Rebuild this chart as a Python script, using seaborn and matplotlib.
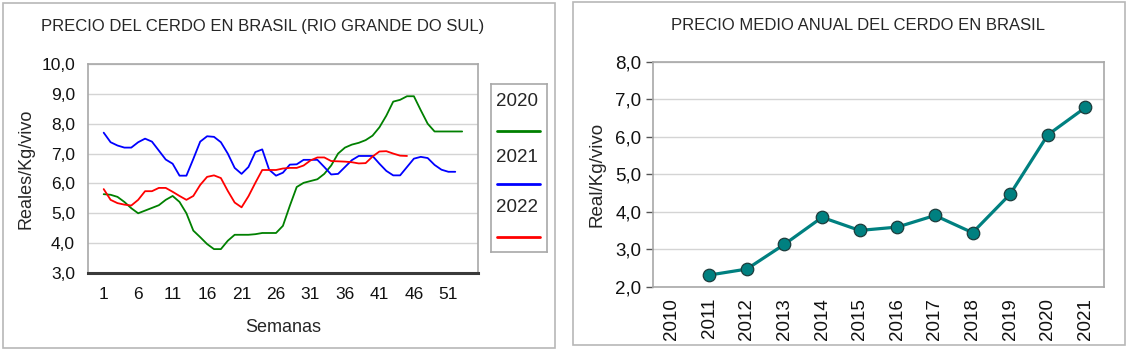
import matplotlib
matplotlib.use("Agg")
import matplotlib.pyplot as plt
from matplotlib.patches import Rectangle
from matplotlib.ticker import FuncFormatter
import pandas as pd
import seaborn as sns

# weekly live pig price, Rio Grande do Sul (Reales/Kg vivo)
precio_2020 = [
    5.64, 5.62, 5.55, 5.38, 5.17, 5.00, 5.09, 5.18, 5.27, 5.45,
    5.58, 5.38, 5.00, 4.42, 4.20, 3.97, 3.80, 3.80, 4.08, 4.28,
    4.28, 4.28, 4.30, 4.34, 4.34, 4.34, 4.58, 5.25, 5.88, 6.02,
    6.08, 6.14, 6.32, 6.60, 7.00, 7.20, 7.30, 7.36, 7.45, 7.60,
    7.88, 8.27, 8.74, 8.80, 8.92, 8.92, 8.45, 8.00, 7.74, 7.74,
    7.74, 7.74, 7.74,
]
precio_2021 = [
    7.70, 7.38, 7.27, 7.20, 7.20, 7.38, 7.50, 7.40, 7.10, 6.80,
    6.66, 6.26, 6.26, 6.82, 7.40, 7.58, 7.56, 7.38, 7.00, 6.52,
    6.32, 6.55, 7.05, 7.14, 6.46, 6.26, 6.36, 6.63, 6.64, 6.79,
    6.79, 6.79, 6.55, 6.30, 6.32, 6.55, 6.78, 6.92, 6.92, 6.92,
    6.66, 6.42, 6.27, 6.27, 6.55, 6.83, 6.89, 6.85, 6.62, 6.46,
    6.39, 6.39,
]
precio_2022 = [
    5.81, 5.45, 5.34, 5.29, 5.26, 5.45, 5.74, 5.74, 5.85, 5.85,
    5.72, 5.58, 5.45, 5.58, 5.95, 6.22, 6.27, 6.18, 5.75, 5.36,
    5.20, 5.57, 6.02, 6.45, 6.45, 6.45, 6.50, 6.52, 6.52, 6.60,
    6.77, 6.87, 6.87, 6.75, 6.74, 6.73, 6.71, 6.67, 6.68, 6.90,
    7.07, 7.08, 7.00, 6.93, 6.92,
]
series_anios = ["2020", "2021", "2022"]
series_colores = ["#008000", "#0000ff", "#ff0000"]
semana_ticks = [1, 6, 11, 16, 21, 26, 31, 36, 41, 46, 51]

# annual average price
anios_eje = list(range(2010, 2022))
anios = [2011, 2012, 2013, 2014, 2015, 2016, 2017, 2018, 2019, 2020, 2021]
precio_medio = [2.31, 2.47, 3.13, 3.85, 3.50, 3.59, 3.90, 3.44, 4.47, 6.05, 6.78]

frames = []
for anio, valores in zip(series_anios, [precio_2020, precio_2021, precio_2022]):
    frames.append(pd.DataFrame({
        "Semana": range(1, len(valores) + 1),
        "Precio": valores,
        "Año": anio,
    }))
semanal = pd.concat(frames, ignore_index=True)
anual = pd.DataFrame({"Año": anios, "Precio": precio_medio})

sns.set_style("white")
plt.rcParams["font.family"] = ["Liberation Sans", "DejaVu Sans"]

W, H = 1132, 352
fig = plt.figure(figsize=(W / 100, H / 100), dpi=100)


def fx(px):
    return px / W


def fy(py):
    return 1 - py / H


coma = FuncFormatter(lambda v, p: f"{v:.1f}".replace(".", ","))
gris = "#a8a8a8"

# panel frames
fig.add_artist(Rectangle((fx(3), fy(348)), fx(552), 345 / H, transform=fig.transFigure,
                         fill=False, edgecolor="#b8b8b8", linewidth=1.2))
fig.add_artist(Rectangle((fx(573), fy(345)), fx(552), 343 / H, transform=fig.transFigure,
                         fill=False, edgecolor="#b8b8b8", linewidth=1.2))

# ---- left: weekly prices
ax1 = fig.add_axes([fx(87.5), fy(273), fx(478 - 87.5), (273 - 64) / H])
sns.lineplot(data=semanal, x="Semana", y="Precio", hue="Año",
             palette=dict(zip(series_anios, series_colores)),
             linewidth=1.3, legend=False, ax=ax1)
ax1.set_xlim(-1.35, 55.3)
ax1.set_ylim(3, 10)
ax1.set_yticks(range(3, 11))
ax1.yaxis.set_major_formatter(coma)
ax1.set_xticks(semana_ticks)
ax1.yaxis.grid(True, color="#d4d4d4", linewidth=1)
ax1.tick_params(axis="both", length=0, labelsize=12.5, colors="#111111")
ax1.tick_params(axis="y", pad=9)
ax1.tick_params(axis="x", pad=10)
for s in ["top", "right", "left"]:
    ax1.spines[s].set_color(gris)
    ax1.spines[s].set_linewidth(1.2)
ax1.spines["bottom"].set_color("#3a3a3a")
ax1.spines["bottom"].set_linewidth(2.2)
ax1.set_xlabel("Semanas", fontsize=13, labelpad=12)
ax1.set_ylabel("Reales/Kg/vivo", fontsize=13, labelpad=5)

fig.text(fx(263), fy(26), "PRECIO DEL CERDO EN BRASIL (RIO GRANDE DO SUL)",
         ha="center", va="center", fontsize=12)

# legend box
axl = fig.add_axes([fx(490.5), fy(252), fx(56), (252 - 84) / H])
axl.set_xlim(0, 1)
axl.set_ylim(252, 84)
axl.set_xticks([])
axl.set_yticks([])
for s in axl.spines.values():
    s.set_color(gris)
    s.set_linewidth(1.2)
for anio, col, yt, yl in zip(series_anios, series_colores, [102, 157, 208], [131, 184, 237]):
    axl.text(0.47, yt, anio, ha="center", va="center", fontsize=13.5)
    axl.plot([0.11, 0.89], [yl, yl], color=col, linewidth=2)

# ---- right: annual average
ax2 = fig.add_axes([fx(652.7), fy(286.7), fx(1104.3 - 652.7), (286.7 - 61.7) / H])
sns.lineplot(data=anual, x="Año", y="Precio", color="#008080", linewidth=2.3,
             marker="o", markersize=9, markeredgecolor="#1c3c3c",
             markeredgewidth=0.9, ax=ax2)
ax2.set_xlim(2009.5, 2021.5)
ax2.set_ylim(2, 8)
ax2.set_yticks(range(2, 9))
ax2.yaxis.set_major_formatter(coma)
ax2.set_xticks(anios_eje)
ax2.set_xticklabels([str(a) for a in anios_eje], rotation=90)
ax2.yaxis.grid(True, color="#d4d4d4", linewidth=1)
ax2.tick_params(axis="y", length=5, width=1, left=True,
                labelsize=13.5, pad=3, colors="#111111")
ax2.tick_params(axis="y", color="#555555")
ax2.tick_params(axis="x", length=0, labelsize=13.5, pad=8, colors="#111111")
for s in ax2.spines.values():
    s.set_color(gris)
    s.set_linewidth(1.2)
ax2.set_xlabel("")
ax2.set_ylabel("Real/Kg/vivo", fontsize=13.5, labelpad=7)

fig.text(fx(858), fy(25), "PRECIO MEDIO ANUAL DEL CERDO EN BRASIL",
         ha="center", va="center", fontsize=12)

fig.savefig("out.png", dpi=100)
